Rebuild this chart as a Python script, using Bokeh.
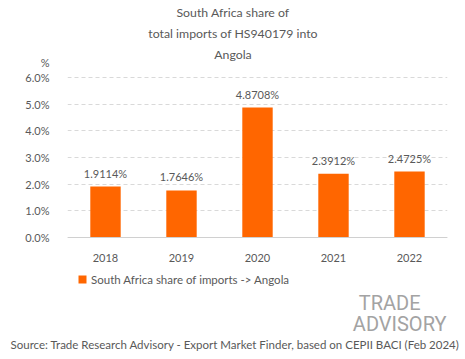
from bokeh.plotting import figure
from bokeh.models import (ColumnDataSource, Range1d, FixedTicker, PrintfTickFormatter, LabelSet,
                          Label, Legend, LegendItem, Title)
from bokeh.core.properties import value
from bokeh.embed import file_html
from bokeh.resources import INLINE

years = ["2018", "2019", "2020", "2021", "2022"]
shares = [1.9114, 1.7646, 4.8708, 2.3912, 2.4725]
share_labels = ["1.9114%", "1.7646%", "4.8708%", "2.3912%", "2.4725%"]
y_ticks = [0, 1, 2, 3, 4, 5, 6]
unit_label = "%"
title_lines = ["South Africa share of", "total imports of HS940179 into", "Angola"]
series_name = "South Africa share of imports -> Angola"
source_text = "Source: Trade Research Advisory - Export Market Finder, based on CEPII BACI (Feb 2024)"

FONT = "Lato"
GREY = "#595959"
ORANGE = "#ff6600"
LOGO_GREY = "#a3a3a3"

# ---- layout (pixels)
W, H = 465, 359
F_LEFT, F_RIGHT = 67, 447     # frame horizontal extent
F_BOTTOM = 336                # frame spans canvas top down to here
Y0_PX, Y6_PX = 237, 77        # pixel rows of 0% and 6%
px_per_unit = (Y0_PX - Y6_PX) / 6.0
y_start = -(F_BOTTOM - Y0_PX) / px_per_unit
y_end = 6 + Y6_PX / px_per_unit
unit_tick = 6 + (Y6_PX - 62) / px_per_unit   # where the "%" unit sits on the axis


def sx(x):  # page x -> screen units relative to frame left
    return x - F_LEFT


def sy(y):  # page y -> screen units relative to frame bottom
    return F_BOTTOM - y


src = ColumnDataSource(dict(year=years, share=shares, lab=share_labels))
p = figure(x_range=years, y_range=Range1d(y_start, y_end), width=W, height=H,
           output_backend="svg", toolbar_location=None,
           min_border_left=F_LEFT, min_border_right=W - F_RIGHT,
           min_border_top=0, min_border_bottom=H - F_BOTTOM)
p.outline_line_color = None
p.background_fill_color = "white"
p.border_fill_color = "white"

bars = p.vbar(x="year", top="share", width=0.4, source=src, color=ORANGE, line_color=None)

p.yaxis.ticker = FixedTicker(ticks=y_ticks + [unit_tick])
p.yaxis.formatter = PrintfTickFormatter(format="%.1f%%")
p.yaxis.major_label_overrides = {unit_tick: unit_label}
p.yaxis.axis_line_color = None
p.yaxis.major_tick_line_color = None
p.yaxis.minor_tick_line_color = None
p.yaxis.major_label_standoff = 12
p.yaxis.major_label_text_font = FONT
p.yaxis.major_label_text_font_size = "11px"
p.yaxis.major_label_text_color = GREY

p.xaxis.fixed_location = 0
p.xaxis.axis_line_color = "#d0d0d0"
p.xaxis.major_tick_line_color = None
p.xaxis.minor_tick_line_color = None
p.xaxis.major_label_standoff = 10
p.xaxis.major_label_text_font = FONT
p.xaxis.major_label_text_font_size = "11px"
p.xaxis.major_label_text_color = GREY

p.xgrid.grid_line_color = None
p.ygrid.ticker = FixedTicker(ticks=y_ticks)
p.ygrid.grid_line_color = "#d9d9d9"
p.ygrid.grid_line_dash = "4 3"

labels = LabelSet(x="year", y="share", text="lab", source=src, text_align="center",
                  text_baseline="bottom", y_offset=7, text_font=value(FONT),
                  text_font_size="11px", text_color=GREY)
p.add_layout(labels)

# ---- title
for i, t in enumerate(title_lines):
    p.add_layout(Label(x=sx(232.5), y=sy(12 + 21 * i), x_units="screen", y_units="screen",
                       text=t, text_align="center", text_baseline="middle", text_font=FONT,
                       text_font_size="12.3px", text_color=GREY))

# ---- legend
legend = Legend(items=[LegendItem(label=series_name, renderers=[bars])],
                location=(sx(77), sy(286)), orientation="horizontal",
                border_line_color=None, background_fill_alpha=0,
                glyph_width=10, glyph_height=10, label_height=14, label_standoff=4,
                padding=0, margin=0, spacing=0,
                label_text_font=FONT, label_text_font_size="11.5px", label_text_color=GREY)
p.add_layout(legend)

# ---- logo
p.add_layout(Label(x=sx(420), y=sy(302), x_units="screen", y_units="screen", text="TRADE",
                   text_align="right", text_baseline="middle", text_font="Roboto",
                   text_font_size="20px", text_color=LOGO_GREY))
p.add_layout(Label(x=sx(446), y=sy(323), x_units="screen", y_units="screen", text="ADVISORY",
                   text_align="right", text_baseline="middle", text_font="Roboto",
                   text_font_size="20px", text_color=LOGO_GREY))

# ---- source line (below the frame)
p.add_layout(Title(text=source_text, align="left", offset=10 - F_LEFT, standoff=0,
                   vertical_align="middle", text_font=FONT, text_font_size="11.5px",
                   text_font_style="normal", text_color=GREY), "below")

open("out.html", "w").write(file_html(p, INLINE))
